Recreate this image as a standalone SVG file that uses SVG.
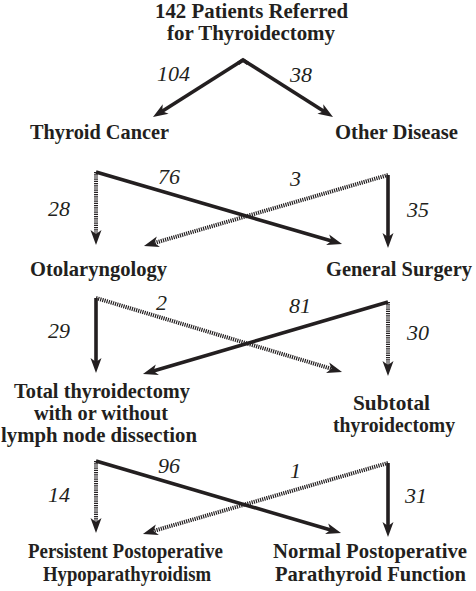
<svg xmlns="http://www.w3.org/2000/svg" width="476" height="591" viewBox="0 0 476 591">
<style>
.lbl{font-family:"Liberation Serif","Times New Roman",serif;font-weight:bold;font-size:21px;fill:#231f20}
.num{font-family:"Liberation Serif","Times New Roman",serif;font-style:italic;font-size:22px;fill:#231f20}
.solid{stroke:#231f20;stroke-width:3.6;fill:none;marker-end:url(#ah)}
.dot{stroke:#231f20;stroke-width:4;fill:none;stroke-dasharray:1.2 1;marker-end:url(#ah)}
</style>
<defs>
<marker id="ah" markerUnits="userSpaceOnUse" viewBox="-8 -7 18 14" markerWidth="18" markerHeight="14" refX="0" refY="0" orient="auto">
<path d="M9,0 L-6,-5.5 L-2,0 L-6,5.5 Z" fill="#231f20"/>
</marker>
</defs>
<rect width="476" height="591" fill="#ffffff"/>

<g id="connectors">
<line class="solid" x1="243" y1="60" x2="160.6" y2="112.2"/>
<line class="solid" x1="243" y1="60" x2="325.4" y2="112.2"/>
<path d="M238,63.5 L243,60 L248,63.5" fill="none" stroke="#231f20" stroke-width="3.6" stroke-linejoin="miter"/>

<line class="dot" x1="96" y1="172" x2="96" y2="236"/>
<line class="dot" x1="388" y1="175" x2="152.6" y2="243.5"/>
<line class="solid" x1="96" y1="172" x2="333.4" y2="241.5"/>
<line class="solid" x1="388" y1="175" x2="388" y2="239"/>

<line class="dot" x1="96" y1="298" x2="333.4" y2="369.4"/>
<line class="solid" x1="96" y1="298" x2="96" y2="364"/>
<line class="solid" x1="388" y1="302" x2="151.6" y2="371.5"/>
<line class="dot" x1="388" y1="302" x2="388" y2="367"/>

<line class="dot" x1="96" y1="461" x2="96" y2="524"/>
<line class="dot" x1="388" y1="463" x2="151.6" y2="531.5"/>
<line class="solid" x1="96" y1="461" x2="332.4" y2="530.5"/>
<line class="solid" x1="388" y1="463" x2="388" y2="528"/>

<text class="num" x="157" y="81">104</text>
<text class="num" x="290" y="82">38</text>
<text class="num" x="48" y="216">28</text>
<text class="num" x="158" y="184">76</text>
<text class="num" x="290" y="186">3</text>
<text class="num" x="407" y="217">35</text>
<text class="num" x="48" y="338">29</text>
<text class="num" x="156" y="310">2</text>
<text class="num" x="289" y="313">81</text>
<text class="num" x="407" y="340">30</text>
<text class="num" x="48" y="502">14</text>
<text class="num" x="158" y="473">96</text>
<text class="num" x="290" y="478">1</text>
<text class="num" x="405" y="503">31</text>
</g>

<g id="root">
<text class="lbl" x="155" y="18" textLength="193" lengthAdjust="spacingAndGlyphs">142 Patients Referred</text>
<text class="lbl" x="167" y="40" textLength="168" lengthAdjust="spacingAndGlyphs">for Thyroidectomy</text>
</g>
<g id="thyroid-cancer">
<text class="lbl" x="30" y="139" textLength="139" lengthAdjust="spacingAndGlyphs">Thyroid Cancer</text>
</g>
<g id="other-disease">
<text class="lbl" x="335" y="139" textLength="123" lengthAdjust="spacingAndGlyphs">Other Disease</text>
</g>
<g id="otolaryngology">
<text class="lbl" x="30" y="276" textLength="137" lengthAdjust="spacingAndGlyphs">Otolaryngology</text>
</g>
<g id="general-surgery">
<text class="lbl" x="326" y="276" textLength="146" lengthAdjust="spacingAndGlyphs">General Surgery</text>
</g>
<g id="total-thyroidectomy">
<text class="lbl" x="14" y="398" textLength="176" lengthAdjust="spacingAndGlyphs">Total thyroidectomy</text>
<text class="lbl" x="34" y="420" textLength="134" lengthAdjust="spacingAndGlyphs">with or without</text>
<text class="lbl" x="1" y="442" textLength="196" lengthAdjust="spacingAndGlyphs">lymph node dissection</text>
</g>
<g id="subtotal-thyroidectomy">
<text class="lbl" x="353" y="410" textLength="77" lengthAdjust="spacingAndGlyphs">Subtotal</text>
<text class="lbl" x="333" y="432" textLength="122" lengthAdjust="spacingAndGlyphs">thyroidectomy</text>
</g>
<g id="persistent-hypoparathyroidism">
<text class="lbl" x="28" y="558" textLength="195" lengthAdjust="spacingAndGlyphs">Persistent Postoperative</text>
<text class="lbl" x="43" y="581" textLength="168" lengthAdjust="spacingAndGlyphs">Hypoparathyroidism</text>
</g>
<g id="normal-parathyroid">
<text class="lbl" x="273" y="558" textLength="194" lengthAdjust="spacingAndGlyphs">Normal Postoperative</text>
<text class="lbl" x="275" y="581" textLength="191" lengthAdjust="spacingAndGlyphs">Parathyroid Function</text>
</g>
</svg>
